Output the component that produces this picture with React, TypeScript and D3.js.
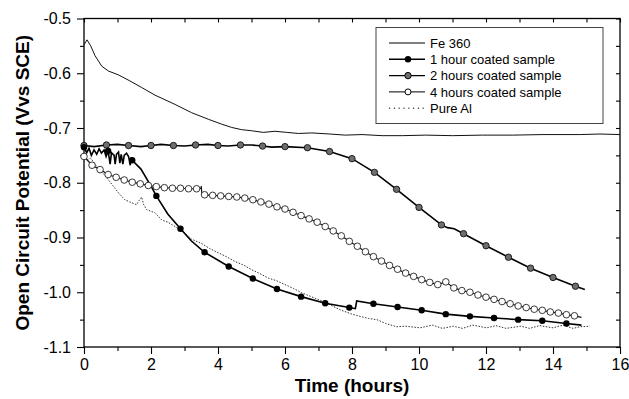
import { useRef, useEffect } from 'react';
import * as d3 from 'd3';

type Pt = [number, number];

// time (hours), open circuit potential (V vs SCE)
const fe360: Pt[] = [
    [0, -0.548], [0.09, -0.539], [0.2, -0.55], [0.33, -0.568], [0.53, -0.587], [0.73, -0.596],
    [1.03, -0.603], [1.37, -0.614], [1.72, -0.626], [2.12, -0.64], [2.72, -0.657], [3.21, -0.672],
    [3.71, -0.684], [4.11, -0.693], [4.41, -0.699], [4.7, -0.703], [5.0, -0.705], [5.35, -0.708],
    [5.7, -0.706], [6.05, -0.708], [6.4, -0.71], [6.8, -0.709], [7.34, -0.711], [7.8, -0.713],
    [8.3, -0.712], [8.9, -0.714], [9.5, -0.714], [10.2, -0.713], [11.0, -0.714], [11.9, -0.713],
    [12.8, -0.713], [13.7, -0.712], [14.8, -0.712], [15.4, -0.711], [16, -0.712],
];

const oneHourMarkers: Pt[] = [
    [0, -0.735], [0.72, -0.742], [1.44, -0.759], [2.16, -0.824], [2.88, -0.884], [3.6, -0.927],
    [4.32, -0.953], [5.04, -0.975], [5.76, -0.994], [6.48, -1.008], [7.2, -1.02], [7.92, -1.028],
    [8.64, -1.021], [9.36, -1.027], [10.08, -1.033], [10.8, -1.04], [11.52, -1.044], [12.24, -1.047],
    [12.96, -1.05], [13.68, -1.052], [14.4, -1.057],
];
const oneHourExtra: Pt[] = [
    [0.08, -0.745], [0.15, -0.737], [0.22, -0.75], [0.3, -0.74], [0.38, -0.748], [0.45, -0.738],
    [0.52, -0.746], [0.6, -0.74], [0.66, -0.752], [0.78, -0.766], [0.82, -0.745], [0.9, -0.75],
    [0.93, -0.766], [0.97, -0.748], [1.03, -0.744], [1.07, -0.764], [1.11, -0.748], [1.16, -0.766],
    [1.2, -0.75], [1.27, -0.746], [1.33, -0.752], [1.38, -0.768], [1.41, -0.754], [1.7, -0.775],
    [2.0, -0.806], [2.5, -0.857], [3.2, -0.906], [8.1, -1.03], [8.14, -1.016], [14.85, -1.06],
];

const twoHourMarkers: Pt[] = [
    [0, -0.732], [0.67, -0.731], [1.33, -0.732], [2.0, -0.732], [2.67, -0.732], [3.33, -0.731],
    [4.0, -0.732], [4.67, -0.731], [5.33, -0.733], [6.0, -0.734], [6.67, -0.736], [7.33, -0.743],
    [8.0, -0.756], [8.67, -0.781], [9.33, -0.812], [10.0, -0.845], [10.67, -0.877], [11.33, -0.893],
    [12.0, -0.915], [12.67, -0.936], [13.33, -0.956], [14.0, -0.973], [14.67, -0.989],
];
const twoHourExtra: Pt[] = [
    [0.3, -0.734], [1.0, -0.73], [1.7, -0.734], [2.3, -0.73], [3.0, -0.733], [3.7, -0.73],
    [4.3, -0.733], [5.0, -0.731], [5.6, -0.735], [10.85, -0.882], [11.05, -0.884], [14.95, -0.995],
];

const fourHourMarkers: Pt[] = [
    [0, -0.752], [0.24, -0.768], [0.48, -0.776], [0.72, -0.785], [0.96, -0.79], [1.2, -0.795],
    [1.44, -0.799], [1.68, -0.802], [1.92, -0.805], [2.16, -0.807], [2.4, -0.809], [2.64, -0.81],
    [2.88, -0.81], [3.12, -0.811], [3.36, -0.811], [3.6, -0.822], [3.84, -0.823], [4.08, -0.824],
    [4.32, -0.825], [4.56, -0.826], [4.8, -0.828], [5.04, -0.831], [5.28, -0.835], [5.52, -0.839],
    [5.76, -0.844], [6.0, -0.848], [6.24, -0.854], [6.48, -0.86], [6.72, -0.866], [6.96, -0.872],
    [7.2, -0.88], [7.44, -0.888], [7.68, -0.897], [7.92, -0.907], [8.16, -0.916], [8.4, -0.926],
    [8.64, -0.935], [8.88, -0.943], [9.12, -0.951], [9.36, -0.958], [9.6, -0.965], [9.84, -0.971],
    [10.08, -0.977], [10.32, -0.982], [10.56, -0.986], [10.8, -0.981], [11.04, -0.992], [11.28, -0.997],
    [11.52, -1.0], [11.76, -1.005], [12.0, -1.009], [12.24, -1.013], [12.48, -1.017], [12.72, -1.021],
    [12.96, -1.025], [13.2, -1.028], [13.44, -1.031], [13.68, -1.033], [13.92, -1.036], [14.16, -1.038],
    [14.4, -1.041], [14.64, -1.043],
];
const fourHourExtra: Pt[] = [[3.49, -0.81], [3.5, -0.806], [3.52, -0.822], [14.85, -1.046]];

const pureAl: Pt[] = [
    [0, -0.748], [0.1, -0.758], [0.2, -0.755], [0.33, -0.766], [0.45, -0.775], [0.6, -0.785],
    [0.73, -0.795], [0.9, -0.808], [1.05, -0.82], [1.22, -0.831], [1.4, -0.836], [1.57, -0.84],
    [1.65, -0.832], [1.72, -0.826], [1.78, -0.84], [1.87, -0.849], [2.12, -0.855], [2.32, -0.868],
    [2.5, -0.872], [2.72, -0.88], [3.01, -0.892], [3.21, -0.903], [3.51, -0.911], [3.75, -0.92],
    [4.01, -0.928], [4.25, -0.935], [4.51, -0.944], [4.75, -0.95], [5.01, -0.959], [5.25, -0.966],
    [5.5, -0.974], [5.75, -0.979], [6.0, -0.986], [6.25, -0.993], [6.5, -1.001], [6.9, -1.011],
    [7.19, -1.018], [7.64, -1.032], [8.0, -1.04], [8.24, -1.044], [8.5, -1.048], [8.74, -1.05],
    [9.0, -1.057], [9.33, -1.063], [9.6, -1.062], [10.03, -1.065], [10.4, -1.06], [10.7, -1.066],
    [11.03, -1.062], [11.3, -1.066], [11.6, -1.06], [12.02, -1.065], [12.3, -1.061], [12.6, -1.066],
    [13.04, -1.062], [13.3, -1.066], [13.6, -1.061], [14.0, -1.065], [14.3, -1.06], [14.6, -1.066],
    [14.8, -1.063], [15.1, -1.062],
];

const xTicks = [0, 2, 4, 6, 8, 10, 12, 14, 16];
const xMinor = [1, 3, 5, 7, 9, 11, 13, 15];
const yTicks = [-1.1, -1.0, -0.9, -0.8, -0.7, -0.6, -0.5];
const yMinor = [-1.05, -0.95, -0.85, -0.75, -0.65, -0.55];

const legendLabels = ['Fe 360', '1 hour coated sample', '2 hours coated sample', '4 hours coated sample', 'Pure Al'];

const FONT = '"Liberation Sans", Arial, Helvetica, sans-serif';

export default function App() {
    const ref = useRef<SVGSVGElement>(null);

    useEffect(() => {
        if (!ref.current) return;
        const w = 629;
        const h = 399;
        const m = { left: 84, right: 620, top: 18.5, bottom: 347 };
        const svg = d3.select(ref.current);
        svg.selectAll('*').remove();
        svg.attr('width', w).attr('height', h).style('font-family', FONT);

        const x = d3.scaleLinear().domain([0, 16]).range([m.left, m.right]);
        const y = d3.scaleLinear().domain([-1.1, -0.5]).range([m.bottom, m.top]);

        const byTime = (a: Pt[]) => a.slice().sort((p, q) => p[0] - q[0]);
        const line = d3
            .line<Pt>()
            .x((d) => x(d[0]))
            .y((d) => y(d[1]));

        const axisStyle = (g: d3.Selection<SVGGElement, unknown, null, undefined>) => {
            g.select('.domain').remove();
            g.selectAll('line').attr('stroke', '#000').attr('stroke-width', 1.1);
            g.selectAll('text').attr('fill', '#000').style('font-size', '16px').style('font-family', FONT);
        };

        // axes
        svg.append('g')
            .attr('transform', `translate(0,${m.bottom})`)
            .call(d3.axisBottom(x).tickValues(xTicks).tickSize(7).tickPadding(5).tickFormat((d) => String(d)))
            .call(axisStyle);
        svg.append('g')
            .attr('transform', `translate(0,${m.bottom})`)
            .call(d3.axisBottom(x).tickValues(xMinor).tickSize(4).tickFormat(() => ''))
            .call(axisStyle);
        svg.append('g')
            .attr('transform', `translate(${m.left},0)`)
            .call(d3.axisLeft(y).tickValues(yTicks).tickSize(7).tickPadding(6).tickFormat((d) => (+d).toFixed(1)))
            .call(axisStyle);
        svg.append('g')
            .attr('transform', `translate(${m.left},0)`)
            .call(d3.axisLeft(y).tickValues(yMinor).tickSize(4).tickFormat(() => ''))
            .call(axisStyle);
        svg.append('g')
            .attr('transform', `translate(0,${m.top})`)
            .call(d3.axisTop(x).tickValues([...xTicks, ...xMinor]).tickSize(-4).tickFormat(() => ''))
            .call(axisStyle);
        svg.append('g')
            .attr('transform', `translate(${m.right},0)`)
            .call(d3.axisRight(y).tickValues([...yTicks, ...yMinor]).tickSize(-4).tickFormat(() => ''))
            .call(axisStyle);

        svg.append('rect')
            .attr('x', m.left)
            .attr('y', m.top)
            .attr('width', m.right - m.left)
            .attr('height', m.bottom - m.top)
            .attr('fill', 'none')
            .attr('stroke', '#000')
            .attr('stroke-width', 1.3);

        // series
        svg.append('path')
            .attr('d', line(pureAl))
            .attr('fill', 'none')
            .attr('stroke', '#333')
            .attr('stroke-width', 1)
            .attr('stroke-dasharray', '1.5,1.5');
        svg.append('path')
            .attr('d', line(fe360))
            .attr('fill', 'none')
            .attr('stroke', '#111')
            .attr('stroke-width', 1);
        svg.append('path')
            .attr('d', line(byTime([...fourHourMarkers, ...fourHourExtra])))
            .attr('fill', 'none')
            .attr('stroke', '#111')
            .attr('stroke-width', 1.2);
        svg.append('path')
            .attr('d', line(byTime([...twoHourMarkers, ...twoHourExtra])))
            .attr('fill', 'none')
            .attr('stroke', '#000')
            .attr('stroke-width', 1.6);
        svg.append('path')
            .attr('d', line(byTime([...oneHourMarkers, ...oneHourExtra])))
            .attr('fill', 'none')
            .attr('stroke', '#000')
            .attr('stroke-width', 1.6);

        svg.append('g')
            .selectAll('circle')
            .data(fourHourMarkers)
            .join('circle')
            .attr('cx', (d) => x(d[0]))
            .attr('cy', (d) => y(d[1]))
            .attr('r', 3.3)
            .attr('fill', '#fff')
            .attr('stroke', '#222')
            .attr('stroke-width', 0.9);
        svg.append('g')
            .selectAll('circle')
            .data(twoHourMarkers)
            .join('circle')
            .attr('cx', (d) => x(d[0]))
            .attr('cy', (d) => y(d[1]))
            .attr('r', 3.2)
            .attr('fill', '#6e6e6e')
            .attr('stroke', '#111')
            .attr('stroke-width', 0.9);
        svg.append('g')
            .selectAll('circle')
            .data(oneHourMarkers)
            .join('circle')
            .attr('cx', (d) => x(d[0]))
            .attr('cy', (d) => y(d[1]))
            .attr('r', 3.2)
            .attr('fill', '#000');

        // legend
        const lg = svg.append('g');
        lg.append('rect')
            .attr('x', 376)
            .attr('y', 27.5)
            .attr('width', 227)
            .attr('height', 96)
            .attr('fill', '#fff')
            .attr('stroke', '#444')
            .attr('stroke-width', 1);
        const rowY = (i: number) => 43 + i * 16.3;
        legendLabels.forEach((label, i) => {
            const ly = rowY(i);
            lg.append('line')
                .attr('x1', 389)
                .attr('x2', 425)
                .attr('y1', ly)
                .attr('y2', ly)
                .attr('stroke', '#000')
                .attr('stroke-width', i === 1 || i === 2 ? 1.4 : 1)
                .attr('stroke-dasharray', i === 4 ? '1.2,3.6' : null);
            if (i === 1) lg.append('circle').attr('cx', 408).attr('cy', ly).attr('r', 3.2).attr('fill', '#000');
            if (i === 2)
                lg.append('circle').attr('cx', 408).attr('cy', ly).attr('r', 3.2).attr('fill', '#6e6e6e').attr('stroke', '#000');
            if (i === 3)
                lg.append('circle').attr('cx', 408).attr('cy', ly).attr('r', 3).attr('fill', '#fff').attr('stroke', '#000');
            lg.append('text')
                .attr('x', 430)
                .attr('y', ly)
                .attr('dy', '0.36em')
                .style('font-size', '13px')
                .text(label);
        });

        // titles
        svg.append('text')
            .attr('x', (m.left + m.right) / 2)
            .attr('y', 392)
            .attr('text-anchor', 'middle')
            .style('font-size', '19px')
            .style('font-weight', 'bold')
            .text('Time (hours)');
        svg.append('text')
            .attr('transform', `translate(29,${(m.top + m.bottom) / 2}) rotate(-90)`)
            .attr('text-anchor', 'middle')
            .style('font-size', '19px')
            .style('font-weight', 'bold')
            .text('Open Circuit Potential (Vvs SCE)');
    }, []);

    return (
        <div style={{ position: 'absolute', left: 0, top: 0, background: '#fff' }}>
            <svg ref={ref} />
        </div>
    );
}
